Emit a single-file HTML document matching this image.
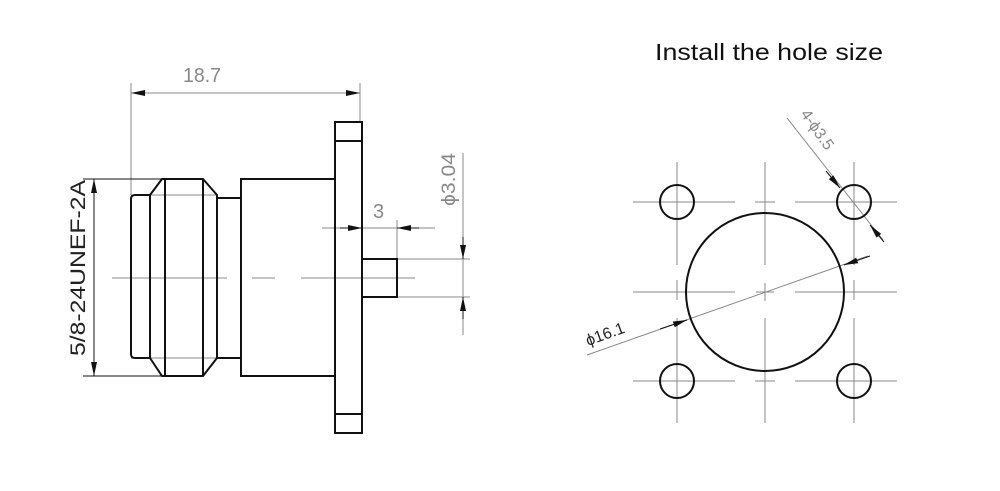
<!DOCTYPE html>
<html><head><style>
html,body{margin:0;padding:0;background:#fff;}
svg{display:block;}
</style></head><body>
<svg width="1000" height="491" viewBox="0 0 1000 491" xmlns="http://www.w3.org/2000/svg">
<defs>
<marker id="a" viewBox="0 0 14 6" refX="14" refY="3" markerWidth="14" markerHeight="6" markerUnits="userSpaceOnUse" orient="auto-start-reverse"><path d="M0,0 L14,3 L0,6 z" fill="#111"/></marker>
</defs>
<text x="769" y="60" font-family="Liberation Sans, sans-serif" font-size="23" text-anchor="middle" fill="#111" textLength="228" lengthAdjust="spacingAndGlyphs">Install the hole size</text>

<g stroke="#888" stroke-width="1" fill="none">
<line x1="131" y1="83" x2="131" y2="195"/>
<line x1="360" y1="83" x2="360" y2="122"/>
<line x1="131" y1="195" x2="217" y2="195"/>
<line x1="131" y1="358" x2="217" y2="358"/>
<line x1="112" y1="278" x2="227" y2="278"/>
<line x1="252" y1="278" x2="275" y2="278"/>
<line x1="301" y1="278" x2="415" y2="278"/>
<line x1="322" y1="228" x2="435" y2="228"/>
<line x1="397" y1="220" x2="397" y2="259"/>
<line x1="397" y1="259" x2="470" y2="259"/>
<line x1="397" y1="297" x2="470" y2="297"/>
<line x1="463" y1="153" x2="463" y2="335"/>
</g>
<g stroke="#111" stroke-width="1" fill="none">
<line x1="131" y1="93" x2="360" y2="93" marker-start="url(#a)" marker-end="url(#a)" stroke="#888"/>
<line x1="340" y1="228" x2="362" y2="228" marker-end="url(#a)"/>
<line x1="419" y1="228" x2="397" y2="228" marker-end="url(#a)"/>
<line x1="463" y1="237" x2="463" y2="259" marker-end="url(#a)"/>
<line x1="463" y1="319" x2="463" y2="297" marker-end="url(#a)"/>
<line x1="83" y1="179" x2="162" y2="179"/>
<line x1="83" y1="376" x2="162" y2="376"/>
<line x1="94" y1="179" x2="94" y2="376" marker-start="url(#a)" marker-end="url(#a)"/>
</g>
<text x="183" y="82" font-family="Liberation Sans, sans-serif" font-size="20" fill="#888" textLength="38" lengthAdjust="spacingAndGlyphs">18.7</text>
<text x="373" y="218" font-family="Liberation Sans, sans-serif" font-size="20" fill="#888">3</text>
<text transform="translate(455,206) rotate(-90)" font-family="Liberation Sans, sans-serif" font-size="19" fill="#888" textLength="53" lengthAdjust="spacingAndGlyphs">ϕ3.04</text>
<text transform="translate(85,356) rotate(-90)" font-family="Liberation Sans, sans-serif" font-size="21" fill="#222" textLength="176" lengthAdjust="spacingAndGlyphs">5/8-24UNEF-2A</text>

<g stroke="#111" stroke-width="2" fill="none" stroke-linejoin="miter">
<rect x="335" y="122" width="27" height="311"/>
<line x1="335" y1="141" x2="362" y2="141"/>
<line x1="335" y1="414" x2="362" y2="414"/>
<rect x="241" y="179" width="94" height="197"/>
<rect x="362" y="259" width="35" height="38"/>
<path d="M217,198 L241,198 M217,358 L241,358 M217,195 L217,358"/>
<path d="M162,179 L203,179 L217,195 L217,358 L203,376 L162,376 L150,358 L150,195 Z"/>
<line x1="165" y1="179" x2="165" y2="376"/>
<line x1="203" y1="179" x2="203" y2="376"/>
<path d="M150,195 L135,195 Q131,195 131,199 L131,354 Q131,358 135,358 L150,358"/>
</g>

<g stroke="#888" stroke-width="1" fill="none">
<line x1="677" y1="162" x2="677" y2="265"/><line x1="677" y1="280" x2="677" y2="300"/><line x1="677" y1="318" x2="677" y2="423"/>
<line x1="854" y1="162" x2="854" y2="265"/><line x1="854" y1="280" x2="854" y2="300"/><line x1="854" y1="318" x2="854" y2="423"/>
<line x1="765" y1="162" x2="765" y2="265"/><line x1="765" y1="283" x2="765" y2="301"/><line x1="765" y1="318" x2="765" y2="423"/>
<line x1="633" y1="202" x2="735" y2="202"/><line x1="755" y1="202" x2="775" y2="202"/><line x1="795" y1="202" x2="897" y2="202"/>
<line x1="633" y1="292" x2="735" y2="292"/><line x1="756" y1="292" x2="774" y2="292"/><line x1="795" y1="292" x2="897" y2="292"/>
<line x1="633" y1="381" x2="735" y2="381"/><line x1="755" y1="381" x2="775" y2="381"/><line x1="795" y1="381" x2="897" y2="381"/>
<line x1="587" y1="355" x2="868" y2="256"/>
<line x1="787" y1="118" x2="883" y2="240"/>
</g>
<g stroke="#111" stroke-width="1" fill="none">
<line x1="660" y1="329" x2="687" y2="320" marker-end="url(#a)"/>
<line x1="870" y1="256" x2="844" y2="265" marker-end="url(#a)"/>
<line x1="826" y1="171" x2="840" y2="188" marker-end="url(#a)"/>
<line x1="884" y1="242" x2="870" y2="225" marker-end="url(#a)"/>
</g>
<g stroke="#111" stroke-width="2" fill="none">
<circle cx="765" cy="292" r="79"/>
<circle cx="677" cy="202" r="17"/>
<circle cx="854" cy="202" r="17"/>
<circle cx="677" cy="381" r="17"/>
<circle cx="854" cy="381" r="17"/>
</g>
<text transform="translate(588,346) rotate(-20)" font-family="Liberation Sans, sans-serif" font-size="16" fill="#222">ϕ16.1</text>
<text transform="translate(800,114) rotate(55)" font-family="Liberation Sans, sans-serif" font-size="16" fill="#888">4-ϕ3.5</text>
</svg>
</body></html>
